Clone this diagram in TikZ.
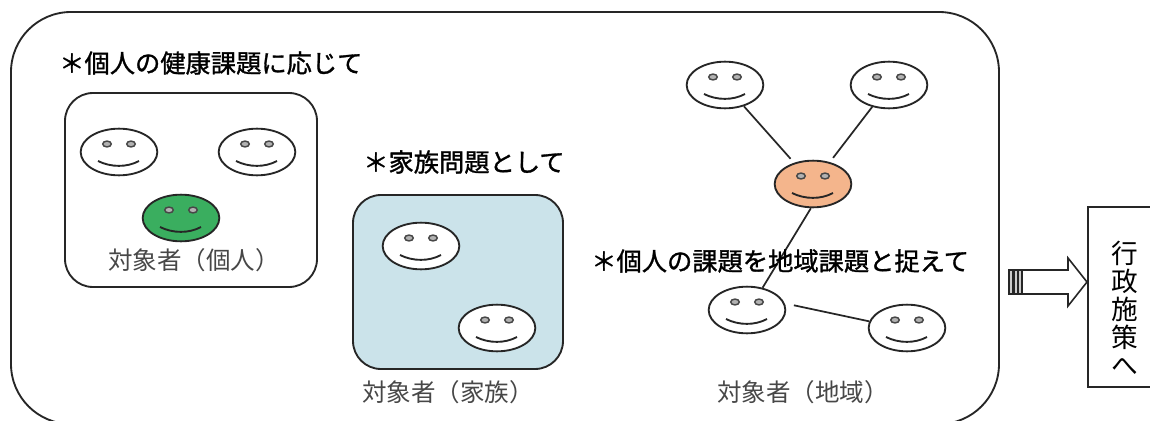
\documentclass[tikz,border=0pt]{standalone}
\usepackage{fontspec}
\setmainfont{Noto Sans CJK JP}
\newfontfamily\headfont[FakeBold=1.2]{Noto Sans CJK JP}
\usetikzlibrary{shapes.geometric}
\definecolor{ink}{HTML}{262626}
\definecolor{famblue}{HTML}{CBE3EA}
\definecolor{facegreen}{HTML}{3AAE5F}
\definecolor{faceorange}{HTML}{F4B58C}
\tikzset{
  x=0.75pt,y=-0.75pt,
  facebody/.style={draw=ink,line width=1.4pt,ellipse,minimum width=57.5pt,minimum height=35pt,inner sep=0pt},
  eye/.style={draw=ink!85,fill=black!30,line width=1.1pt},
  smile/.style={draw=ink,line width=1.4pt},
  link/.style={draw=ink,line width=1.3pt},
  frame/.style={draw=ink,line width=1.4pt},
  head/.style={font=\headfont\fontsize{18.95pt}{22pt}\selectfont,inner sep=0pt,anchor=west},
  tag/.style={font=\fontsize{18.4pt}{21pt}\selectfont,text=black!72,inner sep=0pt,anchor=west},
}
\newcommand{\face}[4]{%
  \node[facebody,fill=#4] (#1) at (#2,#3) {};
  \draw[eye] (#2-12,#3-8) ellipse (3.2pt and 2.2pt);
  \draw[eye] (#2+12,#3-8) ellipse (3.2pt and 2.2pt);
  \draw[smile] (#2-21,#3+9) .. controls (#2-8,#3+15.5) and (#2+8,#3+15.5) .. (#2+20,#3+9);
}
\begin{document}
\begin{tikzpicture}
\useasboundingbox (0,0) rectangle (1150,421);
\clip (0,0) rectangle (1150,421);
\draw[frame,rounded corners=45pt] (11,12) rectangle (999,424);
\draw[frame,rounded corners=21pt] (65,93) rectangle (317,287);
\draw[frame,fill=famblue,rounded corners=21pt] (353,195) rectangle (563,369);
\face{a1}{119}{152}{white}
\face{a2}{257}{152}{white}
\face{a3}{181}{218}{facegreen}
\face{b1}{421}{246}{white}
\face{b2}{497}{328}{white}
\face{c1}{725}{85}{white}
\face{c2}{889}{85}{white}
\face{c3}{813}{184}{faceorange}
\face{c4}{747}{310}{white}
\face{c5}{907}{328}{white}
\draw[link,shorten >=4pt] (c1) -- (c3);
\draw[link,shorten >=4pt] (c2) -- (c3);
\draw[link] (c3.265) -- (c4.55);
\draw[link,shorten <=7pt] (c4.10) -- (c5.170);
\node[head] (h1) at (59,63) {＊個人の健康課題に応じて};
\node[head] (h2) at (363,162) {＊家族問題として};
\node[head] (h3) at (591,261) {＊個人の課題を地域課題と捉えて};
\node[tag] (t1) at (108,260) {対象者（個人）};
\node[tag] (t2) at (362,392) {対象者（家族）};
\node[tag] (t3) at (717,392) {対象者（地域）};
\node[frame,minimum width=90pt,minimum height=135pt,inner sep=0pt,anchor=north west] (box) at (1087,206) {};
\node[font=\fontsize{20pt}{21pt}\selectfont,align=center,inner sep=0pt] (v) at (1125,308) {行\\政\\施\\策\\へ};
\coordinate (tip) at (1087,282);
\draw[frame,line width=1.2pt,fill=white] (1022,270) -- (1068,270) -- (1068,258) -- (tip) -- (1068,306) -- (1068,294) -- (1022,294) -- cycle;
\draw[frame,line width=1.2pt,fill=black!20] (1009,270) rectangle (1013,294) (1014,270) rectangle (1018,294) (1018,270) rectangle (1022,294);
\end{tikzpicture}
\end{document}
